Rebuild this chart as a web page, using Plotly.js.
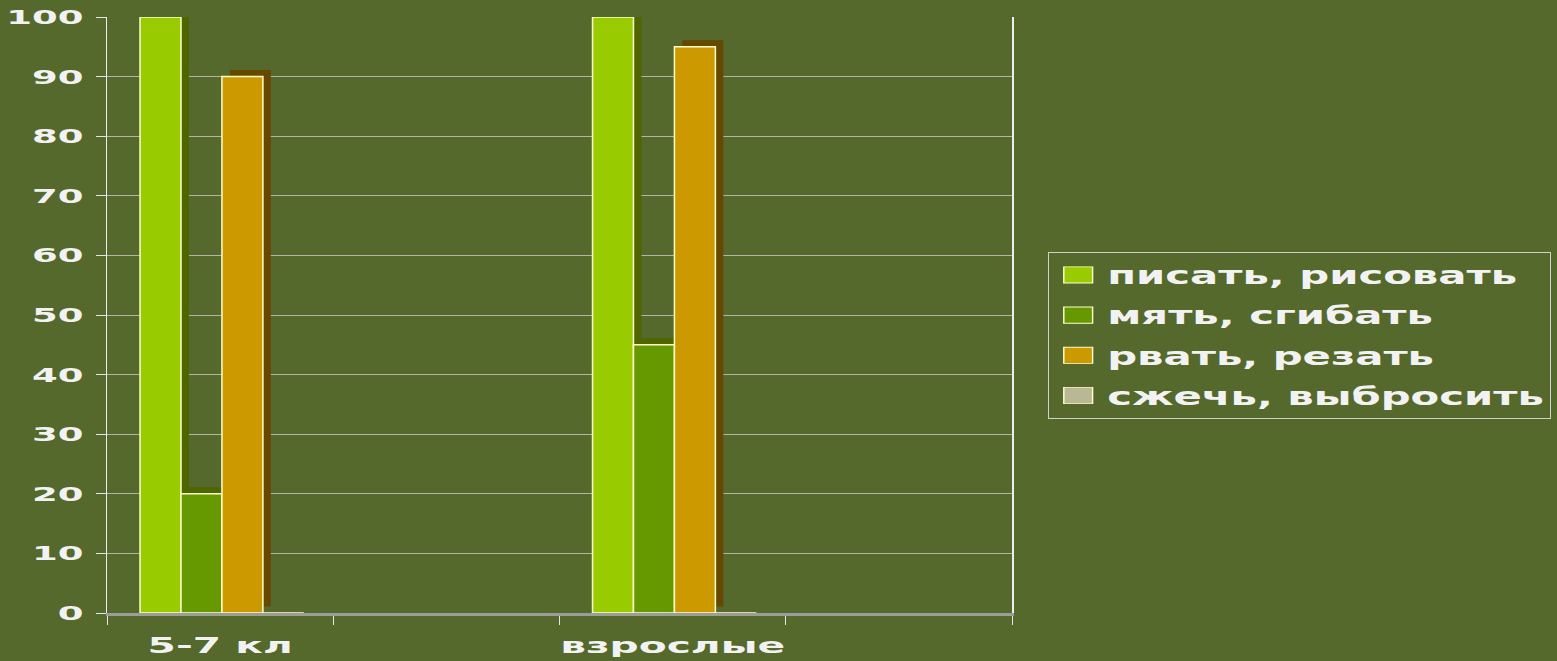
<!DOCTYPE html>
<html>
<head>
<meta charset="utf-8">
<script src="https://cdn.plot.ly/plotly-3.0.1.min.js"></script>
<style>
html,body{margin:0;padding:0;background:#55692C;}
.legendtext{letter-spacing:10.5px;}
</style>
</head>
<body>
<div id="chart" style="width:1557px;height:661px;"></div>
<script>
// ---- data ----
const categories = ["5-7 кл", "взрослые"];
const slots = ["5-7 кл", " ", "взрослые", "  "];
const seriesNames = ["писать, рисовать", "мять, сгибать", "рвать, резать", "сжечь, выбросить"];
const pisat = [100, 100];
const myat = [20, 45];
const rvat = [90, 95];
const szhech = [0, 0];
const yTicks = [0, 10, 20, 30, 40, 50, 60, 70, 80, 90, 100];

// ---- style ----
const values = [pisat, myat, rvat, szhech];
const faceColors = ["#99CC00", "#669900", "#CC9900", "#B8B894"];
const sideColors = ["#4E6500", "#4E6500", "#664800", "rgba(0,0,0,0)"];
const barW = 0.181;
const startOff = -0.354;
const depthX = 0.035;
const depthY = 1.1;

const traces = [];
values.forEach((v, i) => {
  traces.push({
    type: "bar", x: categories, y: v, base: depthY,
    width: barW, offset: startOff + i * barW + depthX,
    marker: {color: sideColors[i], line: {width: 0}},
    showlegend: false, hoverinfo: "skip", cliponaxis: false
  });
});
values.forEach((v, i) => {
  traces.push({
    type: "bar", x: categories, y: v, name: seriesNames[i], legendgroup: "g" + i,
    width: barW, offset: startOff + i * barW, cliponaxis: false,
    marker: {color: faceColors[i], line: {color: "#FFFFCC", width: 1.5}}
  });
});

const layout = {
  width: 1557, height: 661,
  paper_bgcolor: "#55692C", plot_bgcolor: "#55692C",
  margin: {l: 107, r: 545, t: 17, b: 48},
  barmode: "overlay",
  showlegend: true,
  xaxis: {
    type: "category", categoryorder: "array", categoryarray: slots,
    range: [-0.5, 3.5], tickson: "boundaries",
    ticks: "outside", ticklen: 9, tickcolor: "#E6E6E6", tickwidth: 1,
    showline: true, linecolor: "#9C9C9C", linewidth: 3,
    showgrid: false, zeroline: false, ticklabelstandoff: 11,
    tickfont: {family: "DejaVu Sans", size: 22, color: "#F2F2F2", weight: 700}
  },
  yaxis: {
    range: [0, 100], tickmode: "array", tickvals: yTicks,
    ticks: "outside", ticklen: 10, tickcolor: "#E6E6E6", tickwidth: 1,
    showline: true, mirror: true, linecolor: "#EEEEEE", linewidth: 1.5,
    showgrid: true, gridcolor: "#B4B4A8", gridwidth: 1,
    zeroline: false, ticklabelstandoff: 8,
    tickfont: {family: "DejaVu Sans", size: 20, color: "#F2F2F2", weight: 700}
  },
  legend: {
    x: 1.04, xanchor: "left", y: 0.606, yanchor: "top",
    bgcolor: "rgba(0,0,0,0)", bordercolor: "#D0D0D0", borderwidth: 1,
    font: {family: "DejaVu Sans", size: 24, color: "#F2F2F2", weight: 700},
    itemwidth: 48, tracegroupgap: 6, traceorder: "grouped"
  }
};

function widen(selector, factor) {
  document.querySelectorAll(selector).forEach(el => {
    el.style.letterSpacing = "0px";
    const n = el.getComputedTextLength();
    el.setAttribute("textLength", (n * factor).toFixed(1));
    el.setAttribute("lengthAdjust", "spacingAndGlyphs");
  });
}

Plotly.newPlot("chart", traces, layout, {displayModeBar: false, staticPlot: true}).then(() => {
  widen(".ytick text", 1.85);
  widen(".xtick text", 1.85);
  widen(".legendtext", 1.74);
  document.querySelectorAll(".legendpoints path").forEach(p => {
    const t = p.getAttribute("transform") || "";
    p.setAttribute("transform", t + " scale(2.4,1.35)");
    p.style.strokeWidth = "0.6px";
  });
  const legendBoxWidth = 502;
  document.querySelectorAll(".legend rect.bg").forEach(r => r.setAttribute("width", legendBoxWidth));
  document.querySelectorAll("clipPath[id*='legend'] rect").forEach(r => r.setAttribute("width", legendBoxWidth));
});
</script>
</body>
</html>
